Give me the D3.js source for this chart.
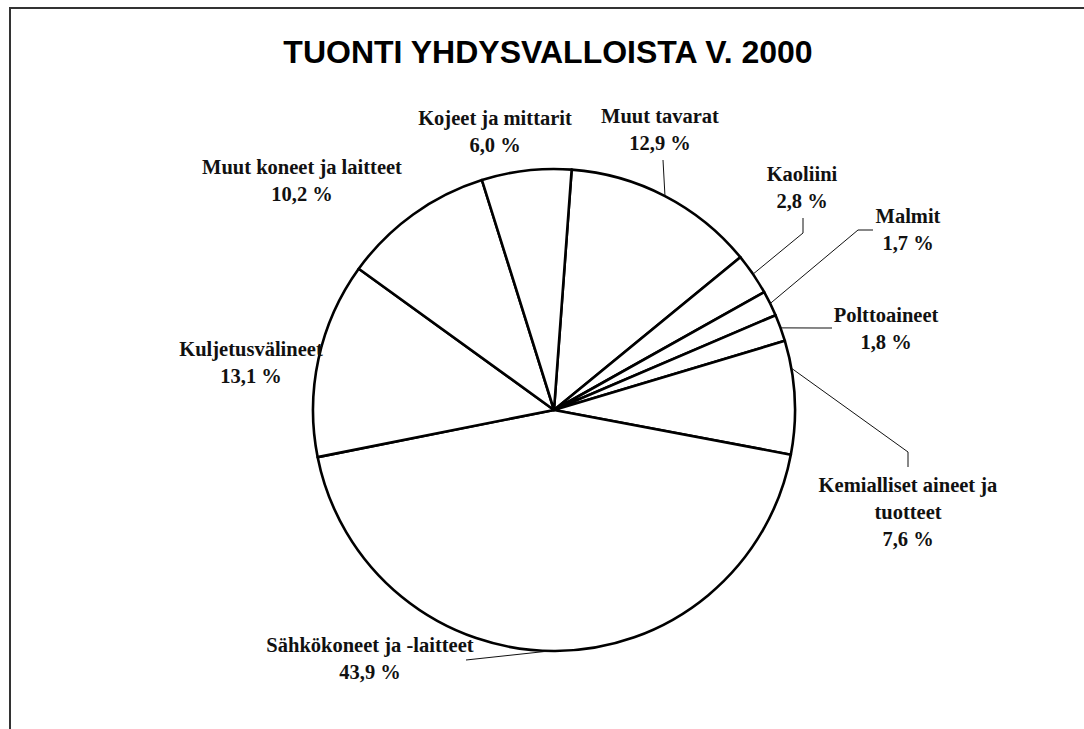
<!DOCTYPE html>
<html>
<head>
<meta charset="utf-8">
<script src="https://cdn.jsdelivr.net/npm/d3@7"></script>
<style>
  body { margin: 0; background: #fff; }
</style>
</head>
<body>
<div id="canvas"></div>
<script>
// import shares from the USA, year 2000 (percent), clockwise from the top
const categories = ["Muut tavarat", "Kaoliini", "Malmit", "Polttoaineet",
    "Kemialliset aineet ja tuotteet", "Sähkökoneet ja -laitteet",
    "Kuljetusvälineet", "Muut koneet ja laitteet", "Kojeet ja mittarit"];
const shares = [12.9, 2.8, 1.7, 1.8, 7.6, 43.9, 13.1, 10.2, 6.0];
// how each category name is broken on its label
const labelLines = [["Muut tavarat"], ["Kaoliini"], ["Malmit"], ["Polttoaineet"],
    ["Kemialliset aineet ja", "tuotteet"], ["Sähkökoneet ja -laitteet"],
    ["Kuljetusvälineet"], ["Muut koneet ja laitteet"], ["Kojeet ja mittarit"]];

const width = 1084, height = 729;
const cx = 554, cy = 410, radius = 241;
const deg = Math.PI / 180;

// label placement (centre x, first baseline) and leader bends, label side first
const labelPos = [
    {x: 660, y: 123, leader: [[663, 160]]},
    {x: 802, y: 181, leader: [[803, 218], [803, 233]]},
    {x: 908, y: 223, leader: [[873, 230], [858, 230]]},
    {x: 886, y: 322, leader: [[832, 328], [818, 328]]},
    {x: 908, y: 492, leader: [[908, 467], [908, 452]], attach: 80},
    {x: 370, y: 652, leader: [[466, 660]], attach: 181},
    {x: 251, y: 356, leader: null},
    {x: 302, y: 174, leader: null},
    {x: 495, y: 125, leader: null}
];

const svg = d3.select("#canvas")
    .append("svg")
    .attr("width", width)
    .attr("height", height);

svg.append("rect").attr("width", width).attr("height", height).attr("fill", "#fff");

// frame (only top and left edges are inside the picture)
svg.append("path")
    .attr("d", "M10," + height + "V8H" + width)
    .attr("fill", "none")
    .attr("stroke", "#333")
    .attr("stroke-width", 2);

svg.append("text")
    .attr("x", 548)
    .attr("y", 63)
    .attr("text-anchor", "middle")
    .style("font-family", "'Liberation Sans', Arial, sans-serif")
    .style("font-weight", "bold")
    .style("font-size", "32px")
    .text("TUONTI YHDYSVALLOISTA V. 2000");

const start = 4.2 * deg;
const pie = d3.pie().sort(null).value(d => d)
    .startAngle(start).endAngle(start + 2 * Math.PI);
const arcs = pie(shares);
const arc = d3.arc().innerRadius(0).outerRadius(radius);

const g = svg.append("g").attr("transform", "translate(" + cx + "," + cy + ")");
g.selectAll("path")
    .data(arcs)
    .enter()
    .append("path")
    .attr("d", arc)
    .attr("fill", "#fff")
    .attr("stroke", "#000")
    .attr("stroke-width", 2.6)
    .attr("stroke-linejoin", "round");

const fmt = v => d3.format(".1f")(v).replace(".", ",") + " %";

// leader lines
arcs.forEach(function(a, i) {
    const p = labelPos[i];
    if (!p.leader) return;
    const ang = p.attach !== undefined ? p.attach * deg : (a.startAngle + a.endAngle) / 2;
    const end = [cx + radius * Math.sin(ang), cy - radius * Math.cos(ang)];
    svg.append("path")
        .attr("d", d3.line()(p.leader.concat([end])))
        .attr("fill", "none")
        .attr("stroke", "#111")
        .attr("stroke-width", 1);
});

// labels
arcs.forEach(function(a, i) {
    const p = labelPos[i];
    const t = svg.append("text")
        .attr("text-anchor", "middle")
        .style("font-family", "'Liberation Serif', 'Times New Roman', serif")
        .style("font-weight", "bold")
        .style("font-size", "20.5px")
        .attr("fill", "#111");
    labelLines[i].concat([fmt(shares[i])]).forEach(function(line, k) {
        t.append("tspan")
            .attr("x", p.x)
            .attr("y", p.y + k * 27)
            .text(line);
    });
});
</script>
</body>
</html>
